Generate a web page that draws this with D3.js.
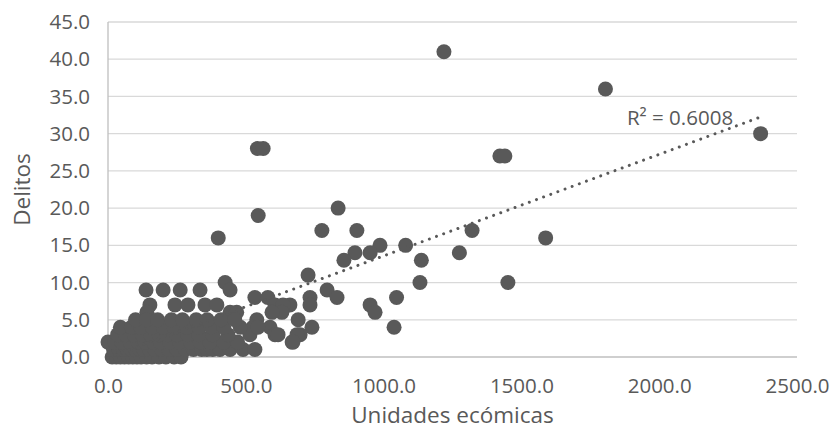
<!DOCTYPE html>
<html>
<head>
<meta charset="utf-8">
<script src="https://cdn.jsdelivr.net/npm/d3@7"></script>
<style>
  body { margin: 0; background: #fff; }
  text { font-family: "Open Sans", sans-serif; fill: #595959; }
</style>
</head>
<body>
<script>
// Datos: unidades economicas (x) y delitos (y)
const unidades = [
  1219, 1805, 2368, 1422, 1440, 542, 563, 545, 400, 835, 776, 903, 1321, 1588,
  987, 1080, 896, 951, 1275, 856, 1137, 726, 1132, 1451, 425, 443, 138, 200,
  262, 334, 795, 533, 580, 733, 831, 1047, 733, 660, 606, 951, 635, 152, 243,
  352, 395, 969, 631, 595, 141, 290, 443, 467, 690, 540, 740, 1038, 588, 526,
  697, 606, 668, 686, 617, 671,
  15, 30, 45, 60, 75, 90, 105, 120, 140, 160, 185, 210, 240, 265,
  20, 40, 55, 70, 85, 100, 115, 130, 150, 170, 195, 220, 250, 280, 310, 340, 359, 380, 406, 443, 490, 533,
  0, 25, 50, 80, 110, 135, 165, 190, 225, 260, 300, 335, 370, 420, 470,
  35, 65, 95, 125, 155, 185, 215, 250, 290, 330, 380, 435, 515,
  45, 85, 120, 160, 200, 240, 285, 330, 375, 420, 480, 544,
  100, 140, 180, 230, 270, 320, 360, 410, 460
];
const delitos = [
  41, 36, 30, 27, 27, 28, 28, 19, 16, 20, 17, 17, 17, 16,
  15, 15, 14, 14, 14, 13, 13, 11, 10, 10, 10, 9, 9, 9,
  9, 9, 9, 8, 8, 8, 8, 8, 7, 7, 7, 7, 7, 7, 7,
  7, 7, 6, 6, 6, 6, 7, 6, 6, 5, 5, 4, 4, 4, 4,
  3, 3, 2, 3, 3, 2,
  0, 0, 0, 0, 0, 0, 0, 0, 0, 0, 0, 0, 0, 0,
  1, 1, 1, 1, 1, 1, 1, 1, 1, 1, 1, 1, 1, 1, 1, 1, 1, 1, 1, 1, 1, 1,
  2, 2, 2, 2, 2, 2, 2, 2, 2, 2, 2, 2, 2, 2, 2,
  3, 3, 3, 3, 3, 3, 3, 3, 3, 3, 3, 3, 3,
  4, 4, 4, 4, 4, 4, 4, 4, 4, 4, 4, 4,
  5, 5, 5, 5, 5, 5, 5, 5, 5
];
const xTicks = [0, 500, 1000, 1500, 2000, 2500];
const yTicks = [0, 5, 10, 15, 20, 25, 30, 35, 40, 45];
// Linea de tendencia lineal (pendiente e intercepto)
const trendSlope = 0.01364;
const trendIntercept = -0.06;
const r2Label = "R² = 0.6008";
const r2Pos = [1883, 31.2];

const width = 835, height = 436;
const margin = { top: 22, right: 38, bottom: 79, left: 108 };

const svg = d3.select("body").append("svg")
  .attr("width", width)
  .attr("height", height);

const x = d3.scaleLinear().domain([0, 2500]).range([margin.left, width - margin.right]);
const y = d3.scaleLinear().domain([0, 45]).range([height - margin.bottom, margin.top]);

// Lineas de cuadricula horizontales
svg.append("g")
  .selectAll("line")
  .data(yTicks)
  .join("line")
  .attr("x1", x(0)).attr("x2", x(2500))
  .attr("y1", d => y(d)).attr("y2", d => y(d))
  .attr("stroke", d => d === 0 ? "#bfbfbf" : "#d9d9d9")
  .attr("stroke-width", 1.3);

// Eje vertical
svg.append("line")
  .attr("x1", x(0)).attr("x2", x(0))
  .attr("y1", y(0)).attr("y2", y(45))
  .attr("stroke", "#bfbfbf")
  .attr("stroke-width", 1.3);

// Ejes con d3 (solo etiquetas)
const xAxis = svg.append("g")
  .attr("transform", `translate(0,${y(0)})`)
  .call(d3.axisBottom(x).tickValues(xTicks).tickFormat(d3.format(".1f")).tickSize(0).tickPadding(21));
xAxis.select(".domain").remove();
xAxis.selectAll("text").style("font-size", "20.5px").attr("fill", "#595959");

const yAxis = svg.append("g")
  .attr("transform", `translate(${x(0)},0)`)
  .call(d3.axisLeft(y).tickValues(yTicks).tickFormat(d3.format(".1f")).tickSize(0).tickPadding(18));
yAxis.select(".domain").remove();
yAxis.selectAll("text").style("font-size", "20.5px").attr("fill", "#595959");

// Puntos
const datos = unidades.map((u, i) => ({ u, d: delitos[i] }));
svg.append("g")
  .selectAll("circle")
  .data(datos)
  .join("circle")
  .attr("cx", p => x(p.u))
  .attr("cy", p => y(p.d))
  .attr("r", 7.5)
  .attr("fill", "#595959");

// Tendencia punteada
const xExt = d3.extent(unidades);
svg.append("line")
  .attr("x1", x(xExt[0])).attr("y1", y(trendSlope * xExt[0] + trendIntercept))
  .attr("x2", x(xExt[1])).attr("y2", y(trendSlope * xExt[1] + trendIntercept))
  .attr("stroke", "#595959")
  .attr("stroke-width", 3)
  .attr("stroke-linecap", "round")
  .attr("stroke-dasharray", "0.01,7.6");

svg.append("text")
  .attr("x", x(r2Pos[0])).attr("y", y(r2Pos[1]))
  .style("font-size", "20.5px")
  .text(r2Label);

// Titulos de ejes
svg.append("text")
  .attr("x", (x(0) + x(2500)) / 2)
  .attr("y", 423)
  .attr("text-anchor", "middle")
  .style("font-size", "22.5px")
  .text("Unidades ecómicas");

svg.append("text")
  .attr("transform", `translate(30,${(y(0) + y(45)) / 2}) rotate(-90)`)
  .attr("text-anchor", "middle")
  .style("font-size", "22.5px")
  .text("Delitos");
</script>
</body>
</html>
